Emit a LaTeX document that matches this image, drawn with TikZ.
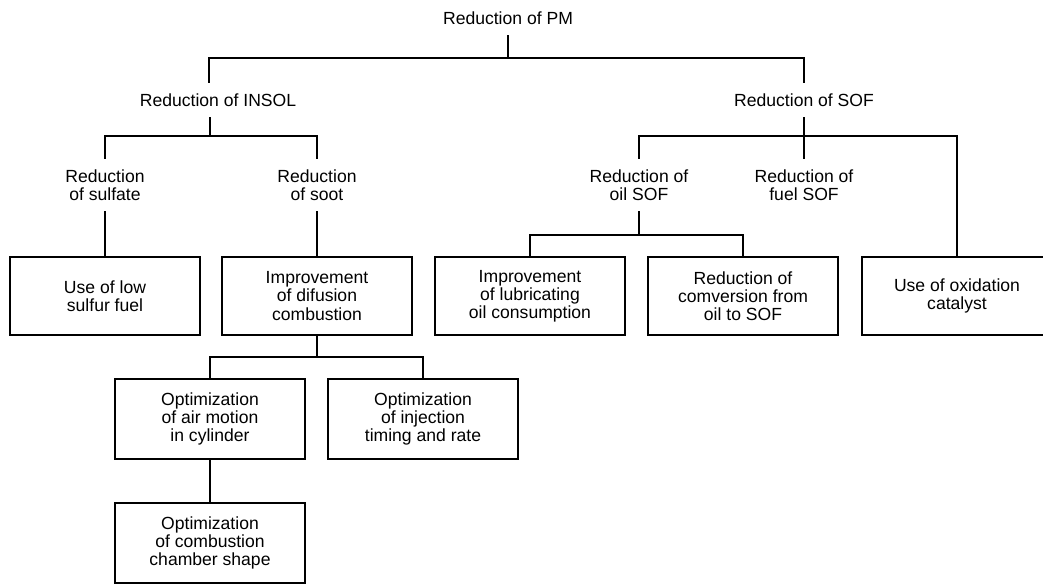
\documentclass[tikz,border=0pt]{standalone}
\usepackage{fontspec}
\setmainfont{Liberation Sans}
\usetikzlibrary{positioning}

\begin{document}
\begin{tikzpicture}[
    x=0.02cm, y=-0.02cm,
    lbl/.style={align=center, inner xsep=2pt, inner ysep=6pt, font=\fontsize{10}{10.3}\selectfont},
    box/.style={draw, line width=0.8pt, align=center, minimum width=3.8cm, minimum height=1.58cm, font=\fontsize{10}{10.3}\selectfont},
    wire/.style={line width=0.8pt},
  ]
  \useasboundingbox (0,0) rectangle (1043,583);

  % Top level
  \node[lbl] (pm) at (508,18) {Reduction of PM};

  % Second level
  \node[lbl] (insol) at (218,100) {Reduction of INSOL};
  \node[lbl] (sof) at (804,100) {Reduction of SOF};

  % Third level
  \node[lbl] (sulfate) at (105,185) {Reduction\\of sulfate};
  \node[lbl] (soot) at (317,185) {Reduction\\of soot};
  \node[lbl] (oilsof) at (639,185) {Reduction of\\oil SOF};
  \node[lbl] (fuelsof) at (804,185) {Reduction of\\fuel SOF};

  % Measures
  \node[box, minimum height=1.56cm] (lowfuel) at (105,296) {Use of low\\sulfur fuel};
  \node[box, minimum height=1.56cm] (diffusion) at (317,296) {Improvement\\of difusion\\combustion};
  \node[box, minimum height=1.56cm] (lubric) at (530,296) {Improvement\\of lubricating\\oil consumption};
  \node[box, minimum height=1.56cm] (convers) at (743,296) {Reduction of\\comversion from\\oil to SOF};
  \node[box, minimum height=1.56cm] (oxid) at (957,296) {Use of oxidation\\catalyst};

  % Soot measures
  \node[box, minimum height=1.6cm] (airmot) at (210,419) {Optimization\\of air motion\\in cylinder};
  \node[box, minimum height=1.6cm] (inject) at (423,419) {Optimization\\of injection\\timing and rate};
  \node[box, minimum height=1.6cm] (chamber) at (210,543) {Optimization\\of combustion\\chamber shape};

  % Junctions
  \coordinate (j1) at (508,58);
  \coordinate (j2) at (210,136);
  \coordinate (j3) at (317,357);
  \coordinate (j4) at (804,136);
  \coordinate (j5) at (639,235);

  % PM -> INSOL, SOF
  \draw[wire] (pm.south) -- (j1);
  \draw[wire] (insol.north) +(-9,0) |- (j1) -| (sof.north);

  % INSOL -> sulfate, soot
  \draw[wire] (insol.south) +(-8,0) -- (j2);
  \draw[wire] (sulfate.north) |- (j2) -| (soot.north);
  \draw[wire] (sulfate) -- (lowfuel);
  \draw[wire] (soot) -- (diffusion);

  % diffusion combustion -> optimizations
  \draw[wire] (diffusion) -- (j3);
  \draw[wire] (airmot.north) |- (j3) -| (inject.north);
  \draw[wire] (airmot) -- (chamber);

  % SOF -> oil, fuel, catalyst
  \draw[wire] (sof) -- (fuelsof);
  \draw[wire] (oilsof.north) |- (j4) -| (oxid.north);
  \draw[wire] (oilsof) -- (j5);
  \draw[wire] (lubric.north) |- (j5) -| (convers.north);

\end{tikzpicture}
\end{document}
